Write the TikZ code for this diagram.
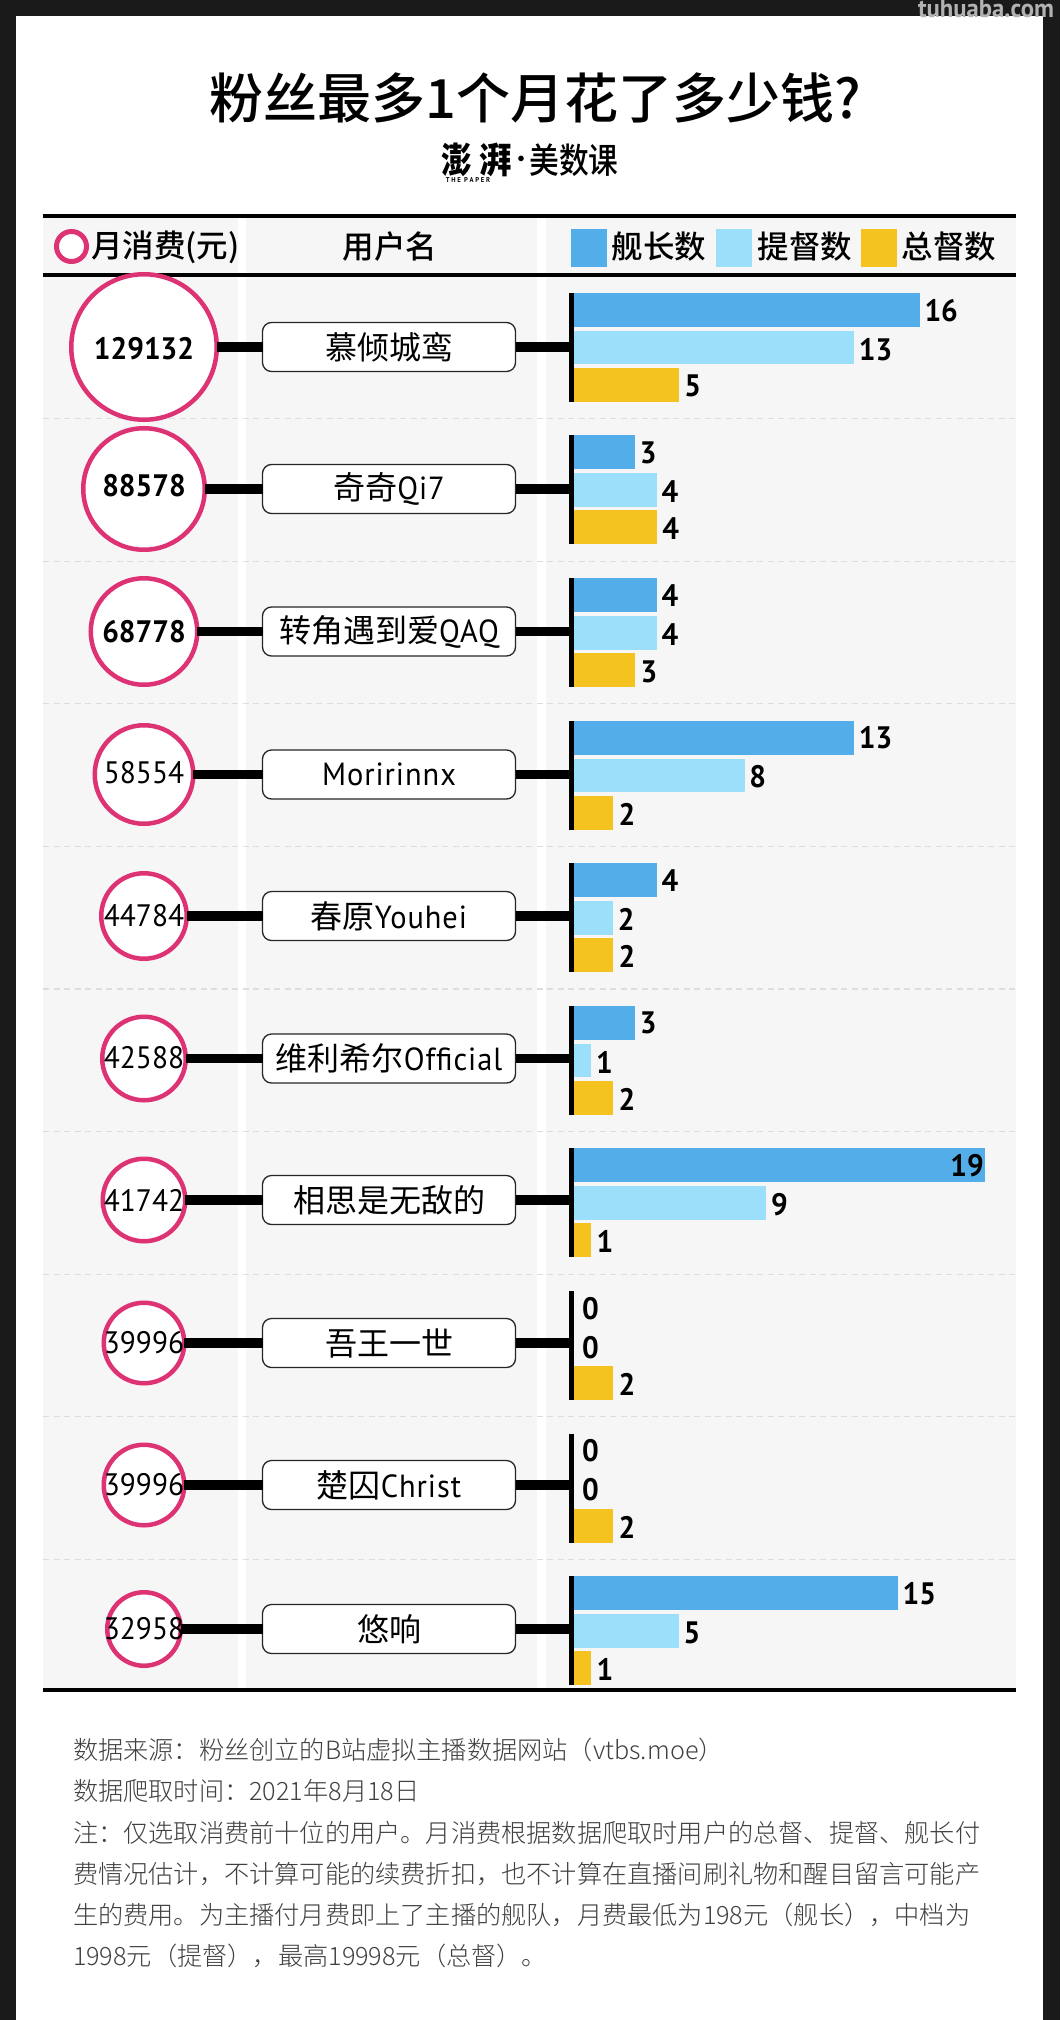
\documentclass[tikz,border=0pt]{standalone}
\usepackage{fontspec}
\setmainfont{Noto Sans CJK SC}
\newfontfamily\med{Noto Sans CJK SC Medium}
\newfontfamily\lite{Noto Sans CJK SC Light}
\newfontfamily\din[FakeStretch=0.95]{PT Sans}
\newfontfamily\dinl[FakeStretch=0.95,LetterSpace=3]{PT Sans}
\definecolor{pagebg}{HTML}{1A1A1A}
\definecolor{rowbg}{HTML}{F6F6F6}
\definecolor{dashc}{HTML}{DDDDDD}
\definecolor{blueb}{HTML}{52ADE9}
\definecolor{lightb}{HTML}{9BDFFB}
\definecolor{yellowb}{HTML}{F5C31F}
\definecolor{pinkc}{HTML}{DD3273}
\definecolor{notec}{HTML}{404040}
\newcommand{\fs}[1]{\fontsize{#1}{#1}\selectfont}
\newcommand{\lat}[1]{{\dinl\fs{32}#1}}
\newcommand{\fcolon}{\char"FF1A\relax}
\newcommand{\fcomma}{\char"FF0C\relax}
\newcommand{\flp}{\char"FF08\relax}
\newcommand{\frp}{\char"FF09\relax}
\tikzset{
  x=1pt,y=-1pt,
  txt/.style={inner sep=0pt,outer sep=0pt,text=black},
  circ/.style={circle,draw=pinkc,line width=4.5pt,fill=white,inner sep=0pt,outer sep=0pt},
  namebox/.style={rectangle,rounded corners=9pt,draw=black!85,line width=1.3pt,fill=white,minimum width=253pt,minimum height=49pt,inner sep=0pt,outer sep=0pt,font=\fs{32}},
  conn/.style={line width=9.5pt,black},
  rule/.style={line width=3.6pt,black},
  vlabel/.style={txt,anchor=west,font=\din\bfseries\fs{31}},
  note/.style={inner sep=0pt,outer sep=0pt,anchor=west,text=notec,font=\lite\fs{25.2}},
  head/.style={txt,font=\med\fs{31.5}},
}
\begin{document}
\begin{tikzpicture}
\useasboundingbox (0,0) rectangle (1060,2020);
\fill[pagebg] (0,0) rectangle (1060,2020);
\fill[white] (16,16) rectangle (1043,2020);
\node[inner sep=0pt,text=white!70!black,font=\din\bfseries\fs{26}] (wm) at (986,9) {tuhuaba.com};
% column backgrounds
\fill[rowbg] (43,216) rectangle (238,1690);
\fill[rowbg] (246,216) rectangle (537,1690);
\fill[rowbg] (546,216) rectangle (1016,1690);
% title
\node[txt,font=\med\fs{54}] (title) at (535,98) {粉丝最多1个月花了多少钱?};
\node[txt,font=\bfseries\fs{36},anchor=center] (logoa) at (457,160) {\scalebox{.85}[1]{澎}};
\node[txt,font=\bfseries\fs{36},anchor=center] (logoa2) at (496,160) {\scalebox{.9}[1]{湃}};
\node[txt,font=\din\bfseries\fs{7},anchor=center] (logob) at (468,180.5) {T H E\ \ P A P E R};
\node[txt,font=\bfseries\fs{20},anchor=center] (logod) at (521,161) {·};
\node[txt,font=\med\fs{35},anchor=center] (logoc) at (574,160) {\scalebox{.85}[1]{美数课}};
% header
\node[circ,minimum size=30pt,line width=5pt] (lc) at (71.5,246.5) {};
\node[head,anchor=west] (h1) at (91,247) {月消费(元)};
\node[head] (h2) at (390,247) {用户名};
\fill[blueb] (571,229) rectangle (607,267);
\fill[lightb] (716,229) rectangle (752,267);
\fill[yellowb] (861,229) rectangle (897,267);
\node[head] (h3) at (659,247) {舰长数};
\node[head] (h4) at (805,247) {提督数};
\node[head] (h5) at (949,247) {总督数};
% dashed separators
\foreach \i in {1,...,9}{
  \draw[dashc,line width=1.3pt,dash pattern=on 6pt off 4.5pt] (43,{347.3+142.6*(\i-0.5)}) -- (1016,{347.3+142.6*(\i-0.5)});
}
% rules
\draw[rule] (43,216) -- (1016,216);
\draw[rule] (43,275) -- (1016,275);
\draw[rule] (43,1690) -- (1016,1690);
% rows
\foreach \i/\ly/\ty/\v/\name/\r/\w/\a/\b/\c in {
 0/347/349/129132/慕倾城鸾/75/\bfseries/16/13/5,
 1/489/486/88578/奇奇\lat{Qi7}/63/\bfseries/3/4/4,
 2/631.5/632/68778/转角遇到爱\lat{QAQ}/55.5/\bfseries/4/4/3,
 3/774.5/773/58554/\lat{Moririnnx}/51.5//13/8/2,
 4/916/916/44784/春原\lat{Youhei}/45//4/2/2,
 5/1058.5/1058/42588/维利希尔\lat{Official}/44//3/1/2,
 6/1200/1200/41742/相思是无敌的/43.5//19/9/1,
 7/1343/1343/39996/吾王一世/42.5//0/0/2,
 8/1485/1485/39996/楚囚\lat{Christ}/42.5//0/0/2,
 9/1629/1629/32958/悠响/39//15/5/1}{
  \pgfmathsetmacro{\cy}{347.3+142.6*\i}
  \pgfmathsetmacro{\da}{569.3+21.9*\a}
  \pgfmathsetmacro{\db}{569.3+21.9*\b}
  \pgfmathsetmacro{\dc}{569.3+21.9*\c}
  \fill[blueb] (569.3,\cy-54.5) rectangle (\da,\cy-20.5);
  \fill[lightb] (569.3,\cy-16.5) rectangle (\db,\cy+17);
  \fill[yellowb] (569.3,\cy+20.5) rectangle (\dc,\cy+54.5);
  \coordinate (axt\i) at (571.5,\cy-54.5);
  \coordinate (axb\i) at (571.5,\cy+54.5);
  \coordinate (axm\i) at (571.5,\ly);
  \draw[black,line width=4.4pt] (axt\i) -- (axb\i);
  \node[circ,minimum size={2*\r-4.5}] (c\i) at (144,\ly) {};
  \node[namebox] (b\i) at (389,\ly) {\name};
  \draw[conn] (c\i) -- (b\i);
  \draw[conn] (b\i) -- (axm\i);
  \node[txt,font=\din\w\fs{31}] (v\i) at (144,\ty) {\v};
  \pgfmathsetmacro{\la}{\a==0 ? 582 : (\a==19 ? \da-35 : \da+4.8)}
  \pgfmathsetmacro{\lb}{\b==0 ? 582 : \db+4.8}
  \pgfmathsetmacro{\lc}{\dc+5.5}
  \node[vlabel] (la\i) at (\la,\cy-37) {\a};
  \node[vlabel] (lb\i) at (\lb,\cy+2) {\b};
  \node[vlabel] (lc\i) at (\lc,\cy+39) {\c};
}
% notes
\node[note] (n1) at (73,1750) {数据来源\fcolon 粉丝创立的B站虚拟主播数据网站\flp vtbs.moe\frp};
\node[note] (n2) at (73,1791) {数据爬取时间\fcolon 2021年8月18日};
\node[note] (n3) at (73,1833) {注\fcolon 仅选取消费前十位的用户。月消费根据数据爬取时用户的总督、提督、舰长付};
\node[note] (n4) at (73,1874) {费情况估计\fcomma 不计算可能的续费折扣\fcomma 也不计算在直播间刷礼物和醒目留言可能产};
\node[note] (n5) at (73,1915) {生的费用。为主播付月费即上了主播的舰队\fcomma 月费最低为198元\flp 舰长\frp\fcomma 中档为};
\node[note] (n6) at (73,1956) {1998元\flp 提督\frp\fcomma 最高19998元\flp 总督\frp。};
\end{tikzpicture}
\end{document}
